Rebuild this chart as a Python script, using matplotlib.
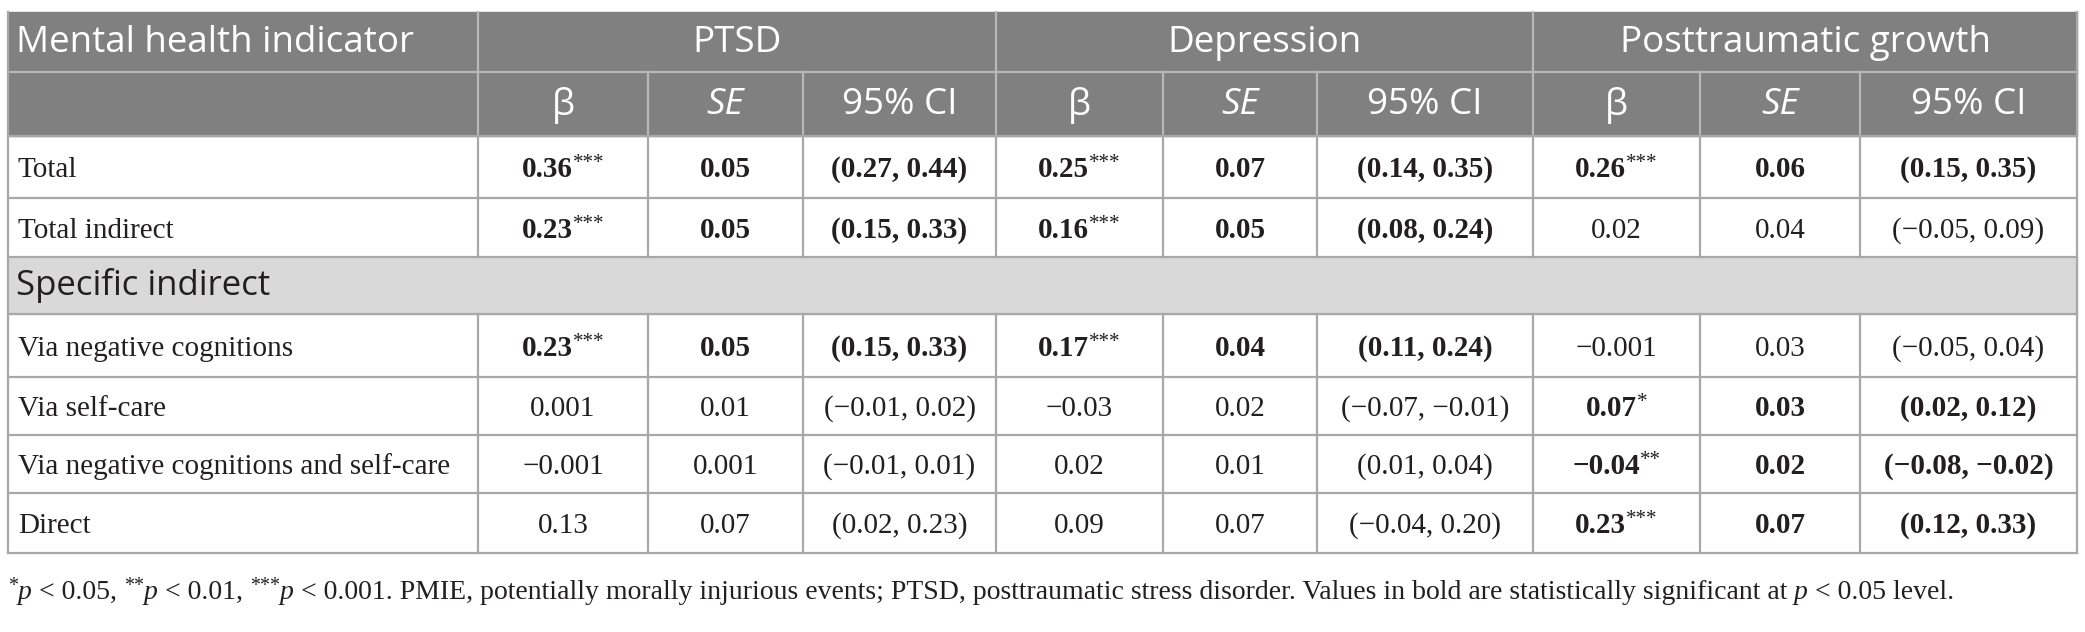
import matplotlib.pyplot as plt
from matplotlib.patches import Rectangle

# table content
groups = ["PTSD", "Depression", "Posttraumatic growth"]
sub_headers = ["β", "SE", "95% CI"]
row_labels = ["Total", "Total indirect", "Specific indirect", "Via negative cognitions",
              "Via self-care", "Via negative cognitions and self-care", "Direct"]
section_row = 2

ptsd_beta = ["0.36", "0.23", None, "0.23", "0.001", "−0.001", "0.13"]
ptsd_stars = ["***", "***", None, "***", "", "", ""]
ptsd_se = ["0.05", "0.05", None, "0.05", "0.01", "0.001", "0.07"]
ptsd_ci = ["(0.27, 0.44)", "(0.15, 0.33)", None, "(0.15, 0.33)", "(−0.01, 0.02)", "(−0.01, 0.01)", "(0.02, 0.23)"]
ptsd_bold = [True, True, None, True, False, False, False]

dep_beta = ["0.25", "0.16", None, "0.17", "−0.03", "0.02", "0.09"]
dep_stars = ["***", "***", None, "***", "", "", ""]
dep_se = ["0.07", "0.05", None, "0.04", "0.02", "0.01", "0.07"]
dep_ci = ["(0.14, 0.35)", "(0.08, 0.24)", None, "(0.11, 0.24)", "(−0.07, −0.01)", "(0.01, 0.04)", "(−0.04, 0.20)"]
dep_bold = [True, True, None, True, False, False, False]

ptg_beta = ["0.26", "0.02", None, "−0.001", "0.07", "−0.04", "0.23"]
ptg_stars = ["***", "", None, "", "*", "**", "***"]
ptg_se = ["0.06", "0.04", None, "0.03", "0.03", "0.02", "0.07"]
ptg_ci = ["(0.15, 0.35)", "(−0.05, 0.09)", None, "(−0.05, 0.04)", "(0.02, 0.12)", "(−0.08, −0.02)", "(0.12, 0.33)"]
ptg_bold = [True, False, None, False, True, True, True]

# footnote pieces: (text, kind) with kind n=normal, i=italic, s=superscript
footnote = [("*", "s"), ("p", "i"), (" < 0.05, ", "n"), ("**", "s"), ("p", "i"), (" < 0.01, ", "n"),
            ("***", "s"), ("p", "i"),
            (" < 0.001. PMIE, potentially morally injurious events; PTSD, posttraumatic stress disorder. "
             "Values in bold are statistically significant at ", "n"),
            ("p", "i"), (" < 0.05 level.", "n")]

# layout (pixels)
W, H = 2085, 632
col_x = [8, 478, 648, 803, 996, 1163, 1317, 1533, 1700, 1860, 2077]
row_y = [12, 72, 136, 198, 257, 314, 377, 435, 493, 553]
head_bg = "#808080"
sect_bg = "#d9d9d9"
line_c = "#a8a8a8"
head_line = "#b8b8b8"
txt_c = "#231f20"
sans = "Open Sans"
serif = "Liberation Serif"
body_fs = 21
foot_fs = 20

fig = plt.figure(figsize=(W / 100, H / 100), dpi=100)
ax = fig.add_axes([0, 0, 1, 1])
ax.set_xlim(0, W)
ax.set_ylim(H, 0)
ax.axis("off")
renderer = fig.canvas.get_renderer()


def text_width(s, **kw):
    # pad with x on both sides so spaces are counted
    t1 = ax.text(0, 0, "x" + s + "x", **kw)
    t2 = ax.text(0, 0, "xx", **kw)
    w = t1.get_window_extent(renderer).width - t2.get_window_extent(renderer).width
    t1.remove()
    t2.remove()
    return w


def draw_pieces(x, base, pieces, fs, ha="left"):
    items = []
    for s, kind in pieces:
        kw = dict(family=serif, color=txt_c, fontsize=fs)
        dy = 0
        if kind == "i":
            kw["style"] = "italic"
        elif kind == "b":
            kw["weight"] = "bold"
        elif kind == "s":
            kw["fontsize"] = fs * 0.72
            dy = -fs * 0.42
        items.append((s, kw, dy, text_width(s, **kw)))
    total = sum(it[3] for it in items)
    cur = x - total / 2 if ha == "center" else x
    for s, kw, dy, w in items:
        ax.text(cur, base + dy, s, ha="left", va="baseline", **kw)
        cur += w


left, right = col_x[0], col_x[-1]

# backgrounds
ax.add_patch(Rectangle((left, row_y[0]), right - left, row_y[2] - row_y[0], color=head_bg, zorder=0))
sy = row_y[2 + section_row]
ax.add_patch(Rectangle((left, sy), right - left, row_y[3 + section_row] - sy, color=sect_bg, zorder=0))

# header lines
ax.plot([left, right], [row_y[1], row_y[1]], color=head_line, lw=1.6, zorder=1)
for x in [col_x[1], col_x[4], col_x[7]]:
    ax.plot([x, x], [row_y[0], row_y[1]], color=head_line, lw=1.6, zorder=1)
for x in col_x[1:-1]:
    ax.plot([x, x], [row_y[1], row_y[2]], color=head_line, lw=1.6, zorder=1)

# body lines
for y in row_y[2:]:
    ax.plot([left, right], [y, y], color=line_c, lw=1.6, zorder=1)
for i in range(len(row_labels)):
    if i == section_row:
        continue
    y0, y1 = row_y[2 + i], row_y[3 + i]
    for x in col_x[1:-1]:
        ax.plot([x, x], [y0, y1], color=line_c, lw=1.6, zorder=1)
ax.plot([left, left], [row_y[0], row_y[-1]], color=line_c, lw=1.6, zorder=1)
ax.plot([right, right], [row_y[0], row_y[-1]], color=line_c, lw=1.6, zorder=1)

# header text
hy = (row_y[0] + row_y[1]) / 2 + 1
ax.text(left + 8, hy, "Mental health indicator", family=sans, fontsize=26.5, color="white",
        ha="left", va="center")
for g, name in enumerate(groups):
    cx = (col_x[1 + 3 * g] + col_x[4 + 3 * g]) / 2
    ax.text(cx, hy, name, family=sans, fontsize=26.5, color="white", ha="center", va="center")
hy2 = (row_y[1] + row_y[2]) / 2 + 1
for c in range(9):
    cx = (col_x[1 + c] + col_x[2 + c]) / 2
    lab = sub_headers[c % 3]
    ax.text(cx, hy2, lab, family=sans, fontsize=26.5, color="white", ha="center", va="center",
            style="italic" if lab == "SE" else "normal")

# body text
series = [(ptsd_beta, ptsd_stars, ptsd_se, ptsd_ci, ptsd_bold),
          (dep_beta, dep_stars, dep_se, dep_ci, dep_bold),
          (ptg_beta, ptg_stars, ptg_se, ptg_ci, ptg_bold)]

for i, lab in enumerate(row_labels):
    cy = (row_y[2 + i] + row_y[3 + i]) / 2
    if i == section_row:
        ax.text(left + 8, cy, lab, family=sans, fontsize=25, color=txt_c, ha="left", va="center")
        continue
    base = cy + 10
    ax.text(left + 10, base, lab, family=serif, fontsize=body_fs, color=txt_c, ha="left", va="baseline")
    for g, (beta, stars, se, ci, bold) in enumerate(series):
        kind = "b" if bold[i] else "n"
        cells = [beta[i], se[i], ci[i]]
        for k, val in enumerate(cells):
            cx = (col_x[1 + 3 * g + k] + col_x[2 + 3 * g + k]) / 2
            pieces = [(val, kind)]
            if k == 0 and stars[i]:
                pieces.append((stars[i], "s"))
            draw_pieces(cx, base, pieces, body_fs, ha="center")

# footnote
draw_pieces(left, 599, footnote, foot_fs)

fig.savefig("out.png", dpi=100)
